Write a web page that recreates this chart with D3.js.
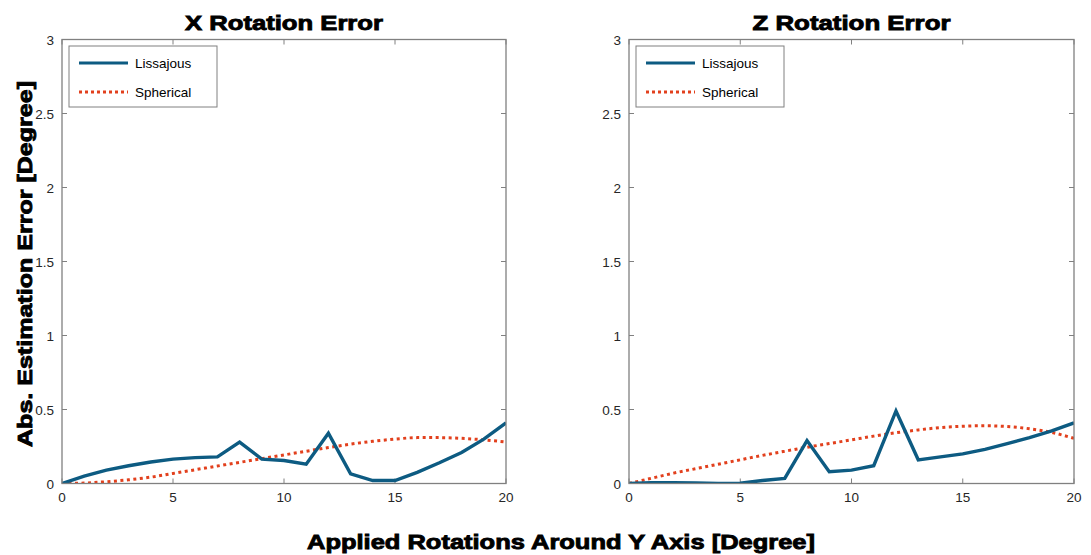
<!DOCTYPE html>
<html><head><meta charset="utf-8">
<script src="https://cdn.jsdelivr.net/npm/d3@7"></script>
<style>body{margin:0;background:#fff;} text{font-family:"Liberation Sans",Arial,sans-serif;}</style>
</head><body>
<svg id="chart" width="1091" height="555"></svg>
<script>
const xValues = [0,1,2,3,4,5,6,7,8,9,10,11,12,13,14,15,16,17,18,19,20];
const xLissajous = [0,0.05,0.09,0.12,0.145,0.165,0.175,0.18,0.28,0.165,0.155,0.13,0.34,0.065,0.02,0.02,0.075,0.14,0.21,0.3,0.41];
const xSpherical = [0,0.003,0.012,0.025,0.043,0.068,0.093,0.118,0.143,0.168,0.193,0.218,0.243,0.266,0.285,0.3,0.31,0.31,0.305,0.295,0.28];
const zLissajous = [0,0.005,0.006,0.004,0,0.002,0.02,0.035,0.29,0.08,0.09,0.12,0.49,0.16,0.18,0.2,0.23,0.27,0.31,0.355,0.41];
const zSpherical = [0,0.035,0.07,0.1,0.13,0.16,0.19,0.218,0.245,0.27,0.295,0.32,0.343,0.362,0.378,0.387,0.39,0.385,0.37,0.345,0.305];
const xTicks = [0,5,10,15,20];
const yTicks = [0,0.5,1,1.5,2,2.5,3];
const panels = [
  {title:"X Rotation Error", lis:xLissajous, sph:xSpherical, left:62, right:506},
  {title:"Z Rotation Error", lis:zLissajous, sph:zSpherical, left:629, right:1074}
];
const seriesNames = ["Lissajous","Spherical"];
const colors = {lis:"#0d5b82", sph:"#e2401d"};
const plotTop = 39.5, plotBottom = 483.5;
const svg = d3.select("#chart");
const axisColor = "#808080";

function heavy(sel){
  return sel.attr("font-weight","bold").attr("fill","#000").attr("stroke","#000").attr("stroke-width",0.9).attr("lengthAdjust","spacingAndGlyphs");
}

panels.forEach(p => {
  const x = d3.scaleLinear().domain([0,20]).range([p.left,p.right]);
  const y = d3.scaleLinear().domain([0,3]).range([plotBottom,plotTop]);
  const g = svg.append("g");
  const tl = 5;
  xTicks.forEach(t => {
    g.append("line").attr("x1",x(t)).attr("x2",x(t)).attr("y1",plotBottom).attr("y2",plotBottom-tl).attr("stroke",axisColor);
    g.append("line").attr("x1",x(t)).attr("x2",x(t)).attr("y1",plotTop).attr("y2",plotTop+tl).attr("stroke",axisColor);
    g.append("text").attr("x",x(t)).attr("y",plotBottom+18).attr("text-anchor","middle").attr("font-size",13.5).attr("fill","#262626").text(t);
  });
  yTicks.forEach(t => {
    g.append("line").attr("x1",p.left).attr("x2",p.left+tl).attr("y1",y(t)).attr("y2",y(t)).attr("stroke",axisColor);
    g.append("line").attr("x1",p.right).attr("x2",p.right-tl).attr("y1",y(t)).attr("y2",y(t)).attr("stroke",axisColor);
    g.append("text").attr("x",p.left-8).attr("y",y(t)+5).attr("text-anchor","end").attr("font-size",13.5).attr("fill","#262626").text(t);
  });
  const clipId = "clip"+p.left;
  svg.append("clipPath").attr("id",clipId).append("rect").attr("x",p.left).attr("y",plotTop-2).attr("width",p.right-p.left).attr("height",plotBottom-plotTop+2);
  const line = d3.line().x((d,i)=>x(xValues[i])).y(d=>y(d));
  const sphLine = d3.line().curve(d3.curveMonotoneX).x((d,i)=>x(xValues[i])).y(d=>y(d));
  g.append("path").datum(p.sph).attr("d",sphLine).attr("fill","none").attr("stroke",colors.sph).attr("stroke-width",3).attr("stroke-dasharray","3,3.5").attr("clip-path",`url(#${clipId})`);
  g.append("path").datum(p.lis).attr("d",line).attr("fill","none").attr("stroke",colors.lis).attr("stroke-width",3.4).attr("stroke-linejoin","miter").attr("clip-path",`url(#${clipId})`);
  g.append("rect").attr("x",p.left).attr("y",plotTop).attr("width",p.right-p.left).attr("height",plotBottom-plotTop).attr("fill","none").attr("stroke",axisColor).attr("stroke-width",1.3);
  heavy(g.append("text").attr("x",(p.left+p.right)/2).attr("y",30).attr("text-anchor","middle").attr("font-size",21).attr("textLength",198)).text(p.title);
  const lx = p.left+7, ly = 46;
  g.append("rect").attr("x",lx).attr("y",ly).attr("width",148).attr("height",61).attr("fill","#fff").attr("stroke",axisColor).attr("stroke-width",1);
  g.append("line").attr("x1",lx+10).attr("x2",lx+59).attr("y1",ly+17).attr("y2",ly+17).attr("stroke",colors.lis).attr("stroke-width",3.2);
  g.append("line").attr("x1",lx+10).attr("x2",lx+59).attr("y1",ly+46).attr("y2",ly+46).attr("stroke",colors.sph).attr("stroke-width",3).attr("stroke-dasharray","3,3");
  g.append("text").attr("x",lx+66).attr("y",ly+22).attr("font-size",13.5).attr("fill","#000").text(seriesNames[0]);
  g.append("text").attr("x",lx+66).attr("y",ly+51).attr("font-size",13.5).attr("fill","#000").text(seriesNames[1]);
});
heavy(svg.append("text").attr("transform","translate(32,264) rotate(-90)").attr("text-anchor","middle").attr("font-size",21).attr("textLength",366)).text("Abs. Estimation Error [Degree]");
heavy(svg.append("text").attr("x",561).attr("y",549).attr("text-anchor","middle").attr("font-size",21).attr("textLength",508)).text("Applied Rotations Around Y Axis [Degree]");
</script>
</body></html>
